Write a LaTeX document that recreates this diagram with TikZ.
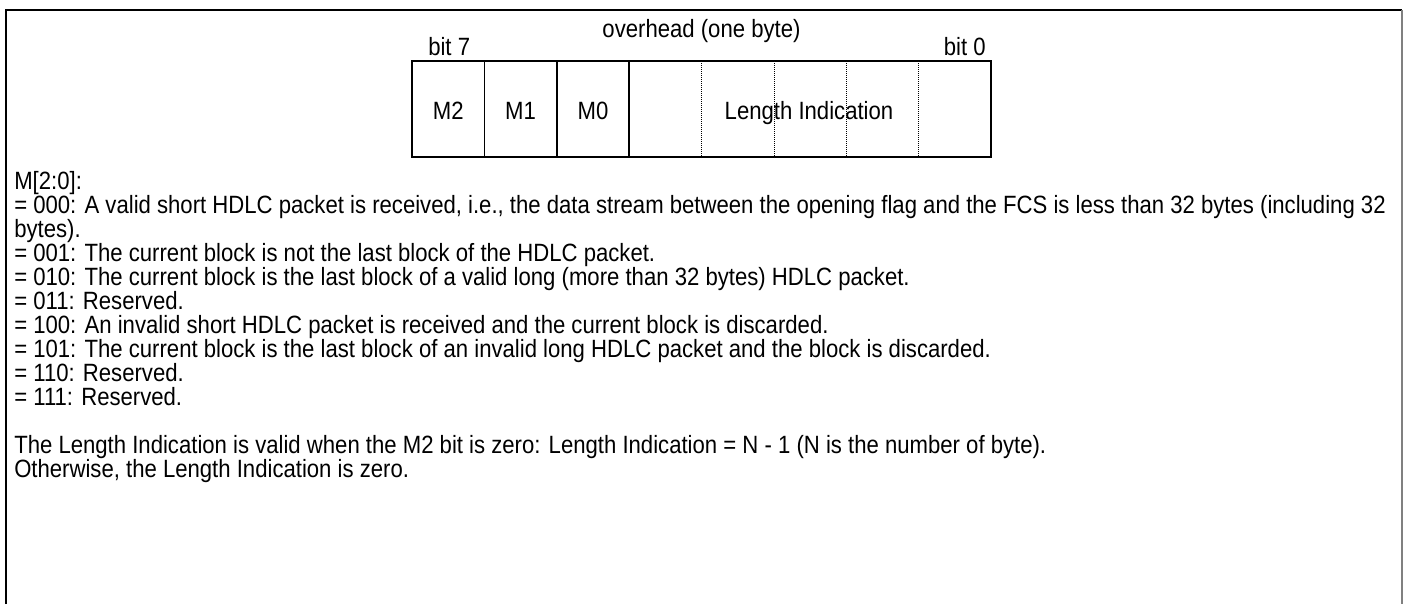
\documentclass[tikz,border=0pt]{standalone}
\usepackage{fontspec}
\setmainfont{Liberation Sans}[FakeStretch=0.885]

\tikzset{txt/.style={inner sep=0pt, font=\fontsize{18.75pt}{18pt}\selectfont}}

\begin{document}
\begin{tikzpicture}[x=0.75pt,y=0.75pt,yscale=-1]
\useasboundingbox (0,0) rectangle (1405,604);

%Frame
\draw [line width=1.5] (6,604) -- (6,10) -- (1402,10) ;
\draw [color=gray, line width=2] (1402,10) -- (1402,604) ;

%Shape: Rectangle (one byte)
\draw [line width=1.2] (412,61) rectangle (991,157) ;
%Straight Lines (mode bits)
\foreach \x in {484.4,556.8,629.1}
  \draw [line width=1.2] (\x,61) -- (\x,157) ;
%Straight Lines (length bits)
\foreach \x in {701.5,773.9,846.3,918.6}
  \draw [densely dotted, line width=0.5] (\x,61) -- (\x,157) ;

% Text Node
\node (ovh) [txt, anchor=base] at (701.5,37) {overhead (one byte)};
% Text Node
\node (bsev) [txt, anchor=base west] at (428,55) {bit 7};
% Text Node
\node (bzero) [txt, anchor=base east] at (986,55) {bit 0};
% Text Node
\node (mtwo) [txt, anchor=base] at (448.2,119) {M2};
\node (mone) [txt, anchor=base] at (520.6,119) {M1};
\node (mzero) [txt, anchor=base] at (593,119) {M0};
\node (len) [txt, anchor=base] at (809,119) {Length Indication};

% Text Node (mode list)
\foreach \t [count=\i] in {{M[2:0]:},
  {= 000: A valid short HDLC packet is received, i.e., the data stream between the opening flag and the FCS is less than 32 bytes (including 32},
  {bytes).},
  {= 001: The current block is not the last block of the HDLC packet.},
  {= 010: The current block is the last block of a valid long (more than 32 bytes) HDLC packet.},
  {= 011: Reserved.},
  {= 100: An invalid short HDLC packet is received and the current block is discarded.},
  {= 101: The current block is the last block of an invalid long HDLC packet and the block is discarded.},
  {= 110: Reserved.},
  {= 111: Reserved.}}
  \node (line\i) [txt, anchor=base west] at (14,165+24*\i) {\t};

% Text Node (note)
\node (notea) [txt, anchor=base west] at (14,453) {The Length Indication is valid when the M2 bit is zero: Length Indication = N - 1 (N is the number of byte).};
\node (noteb) [txt, anchor=base west] at (14,477) {Otherwise, the Length Indication is zero.};

\end{tikzpicture}
\end{document}
